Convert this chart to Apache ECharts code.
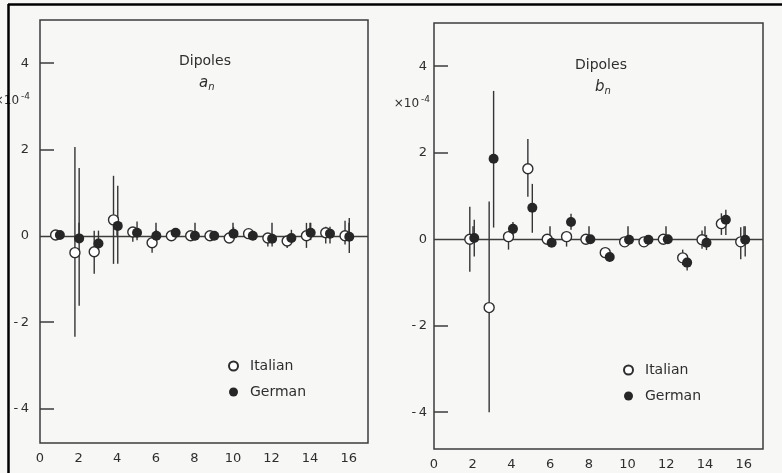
<!DOCTYPE html>
<html>
<head>
<meta charset="utf-8">
<script src="https://cdn.jsdelivr.net/npm/echarts@6/dist/echarts.min.js"></script>
<style>
html,body{margin:0;padding:0;background:#f7f7f6;}
#chart{width:782px;height:473px;}
</style>
</head>
<body>
<div id="chart"></div>
<script>
// ---- Data: dipoles a_n (left) ----
const A_N = [1,2,3,4,5,6,7,8,9,10,11,12,13,14,15,16];
const A_ITA    = [0.02,-0.39,-0.37,0.37,0.09,-0.16,0.00,0.00,0.00,-0.05,0.05,-0.05,-0.12,0.00,0.07,0.00];
const A_ITA_LO = [-0.06,-2.34,-0.88,-0.65,-0.14,-0.39,-0.10,-0.10,-0.08,-0.15,-0.05,-0.25,-0.28,-0.28,-0.18,-0.20];
const A_ITA_HI = [0.08,2.06,0.12,1.39,0.20,0.00,0.08,0.10,0.08,0.08,0.15,0.05,0.00,0.30,0.21,0.35];
const A_GER    = [0.02,-0.06,-0.18,0.23,0.07,0.00,0.07,0.00,0.00,0.05,0.00,-0.07,-0.05,0.07,0.05,-0.02];
const A_GER_LO = [-0.06,-1.62,-0.30,-0.65,-0.10,-0.10,0.00,-0.10,-0.08,-0.05,-0.10,-0.25,-0.15,-0.10,-0.18,-0.40];
const A_GER_HI = [0.08,1.57,0.12,1.16,0.33,0.14,0.14,0.10,0.08,0.20,0.10,0.05,0.14,0.30,0.21,0.41];

// ---- Data: dipoles b_n (right) ----
const B_N = [2,3,4,5,6,7,8,9,10,11,12,13,14,15,16];
const B_ITA    = [0.00,-1.58,0.06,1.63,0.00,0.06,0.00,-0.31,-0.06,-0.06,0.00,-0.43,-0.01,0.36,-0.06];
const B_ITA_LO = [-0.75,-4.00,-0.24,0.98,-0.08,-0.17,-0.08,-0.40,-0.12,-0.18,-0.08,-0.60,-0.22,0.10,-0.46];
const B_ITA_HI = [0.75,0.87,0.15,2.32,0.08,0.15,0.08,-0.22,0.04,0.04,0.08,-0.24,0.20,0.60,0.28];
const B_GER    = [0.03,1.86,0.24,0.73,-0.08,0.40,0.00,-0.41,-0.01,-0.01,0.00,-0.54,-0.08,0.45,-0.01];
const B_GER_LO = [-0.40,0.27,0.10,0.15,-0.15,0.22,-0.08,-0.50,-0.10,-0.10,-0.08,-0.72,-0.25,0.10,-0.40];
const B_GER_HI = [0.45,3.43,0.40,1.28,0.00,0.59,0.08,-0.32,0.08,0.08,0.08,-0.40,0.10,0.68,0.30];

const X_LABELS = [0,2,4,6,8,10,12,14,16];
const X_TICKS = [2,4,6,8,10,12,14,16];
const Y_LABELS = [-4,-2,0,2,4];
const Y_TICKS = [-4,-2,2,4];
const SERIES_NAMES = ['Italian','German'];

// style constants
const INK = '#2e2e2e';
const FONT = 'DejaVu Sans';
const OFF_A = [-0.19, 0.03];
const OFF_B = [-0.15, 0.08];

function pts(ns, vals, off){ return ns.map((n,i)=>[n+off, vals[i]]); }
function bars(ns, lo, hi, off){ return ns.map((n,i)=>[n+off, lo[i], hi[i]]); }

function errSeries(data, idx){
  return {
    type:'custom', xAxisIndex:idx, yAxisIndex:idx, z:2, silent:true,
    data:data, encode:{x:0, y:[1,2]},
    renderItem:function(params, api){
      const p1 = api.coord([api.value(0), api.value(1)]);
      const p2 = api.coord([api.value(0), api.value(2)]);
      return {type:'line', shape:{x1:p1[0],y1:p1[1],x2:p2[0],y2:p2[1]},
              style:{stroke:'#353535', lineWidth:1.4}};
    }
  };
}
function markSeries(name, data, idx, open, withZero){
  const s = {
    type:'scatter', name:name, xAxisIndex:idx, yAxisIndex:idx, z:4,
    symbol:'circle', symbolSize:10, data:data,
    itemStyle: open ? {color:'#fff', borderColor:INK, borderWidth:1.4, opacity:1}
                    : {color:'#262626', opacity:1}
  };
  if (withZero) {
    s.markLine = {silent:true, symbol:'none', label:{show:false}, z:1,
      lineStyle:{color:'#3c3c3c', width:1.4, type:'solid'},
      data:[{yAxis:0}], animation:false};
  }
  return s;
}
function xAxis(idx){
  return {type:'value', gridIndex:idx, min:0, max:17,
    axisLine:{show:false}, splitLine:{show:false},
    axisTick:{show:true, inside:true, length:13, customValues:X_TICKS, lineStyle:{color:'#3c3c3c', width:1.5}},
    axisLabel:{customValues:X_LABELS, margin:9, color:INK, fontSize:13, fontFamily:FONT}};
}
function yAxis(idx, min, margin){
  return {type:'value', gridIndex:idx, min:min, max:5,
    axisLine:{show:false}, splitLine:{show:false},
    axisTick:{show:true, inside:true, length:14, customValues:Y_TICKS, lineStyle:{color:'#3c3c3c', width:1.5}},
    axisLabel:{customValues:Y_LABELS, margin:margin, color:INK, fontSize:13, fontFamily:FONT,
      formatter:v=> v<0 ? '-\u2009'+(-v) : String(v)}};
}
function titleText(x, y, sym){
  return [
    {type:'text', left:x-26, top:y-9, style:{text:'Dipoles', fill:INK, font:'14px "DejaVu Sans"'}},
    {type:'text', left:x-6, top:y+13, style:{text:'{i|'+sym+'}{s|n}', fill:INK,
      rich:{i:{fontStyle:'italic', fontSize:15, fontFamily:FONT, fill:INK},
            s:{fontStyle:'italic', fontSize:10, fontFamily:FONT, fill:INK, padding:[8,0,0,0]}}}}
  ];
}
function scaleText(right, y){
  return {type:'text', x:right, y:y, style:{text:'×10{sup|-4}', align:'right', verticalAlign:'middle',
    fill:INK, fontSize:12, fontFamily:FONT,
    rich:{sup:{fontSize:9, fontFamily:FONT, fill:INK, padding:[0,0,8,2]}}}};
}
function legend(left, top){
  return {data:SERIES_NAMES, orient:'vertical', left:left, top:top, itemWidth:9, itemHeight:9,
    itemGap:10, icon:'circle', selectedMode:false,
    textStyle:{color:INK, fontSize:14, fontFamily:FONT, lineHeight:16, padding:[0,0,0,7]}};
}

const chart = echarts.init(document.getElementById('chart'), null, {renderer:'canvas'});
chart.setOption({
  animation:false,
  backgroundColor:'#f7f7f6',
  grid:[
    {left:40, top:20, width:328, height:423, show:true, borderColor:'#3c3c3c', borderWidth:1.5, backgroundColor:'transparent'},
    {left:434, top:23, width:329, height:426, show:true, borderColor:'#3c3c3c', borderWidth:1.5, backgroundColor:'transparent'}
  ],
  xAxis:[xAxis(0), xAxis(1)],
  yAxis:[yAxis(0,-4.8,11), yAxis(1,-4.85,7)],
  legend:[legend(223, 353), legend(618, 357)],
  series:[
    errSeries(bars(A_N, A_ITA_LO, A_ITA_HI, OFF_A[0]), 0),
    errSeries(bars(A_N, A_GER_LO, A_GER_HI, OFF_A[1]), 0),
    markSeries('Italian', pts(A_N, A_ITA, OFF_A[0]), 0, true, true),
    markSeries('German', pts(A_N, A_GER, OFF_A[1]), 0, false, false),
    errSeries(bars(B_N, B_ITA_LO, B_ITA_HI, OFF_B[0]), 1),
    errSeries(bars(B_N, B_GER_LO, B_GER_HI, OFF_B[1]), 1),
    markSeries('Italian', pts(B_N, B_ITA, OFF_B[0]), 1, true, true),
    markSeries('German', pts(B_N, B_GER, OFF_B[1]), 1, false, false)
  ],
  graphic:[
    ...titleText(205, 63, 'a'),
    ...titleText(601, 67, 'b'),
    scaleText(30, 101),
    scaleText(430, 104),
    {type:'line', z:100, shape:{x1:8, y1:4.5, x2:782, y2:4.5}, style:{stroke:'#000', lineWidth:2.5}},
    {type:'line', z:100, shape:{x1:8.5, y1:4, x2:8.5, y2:473}, style:{stroke:'#000', lineWidth:2.5}}
  ]
});
</script>
</body>
</html>
